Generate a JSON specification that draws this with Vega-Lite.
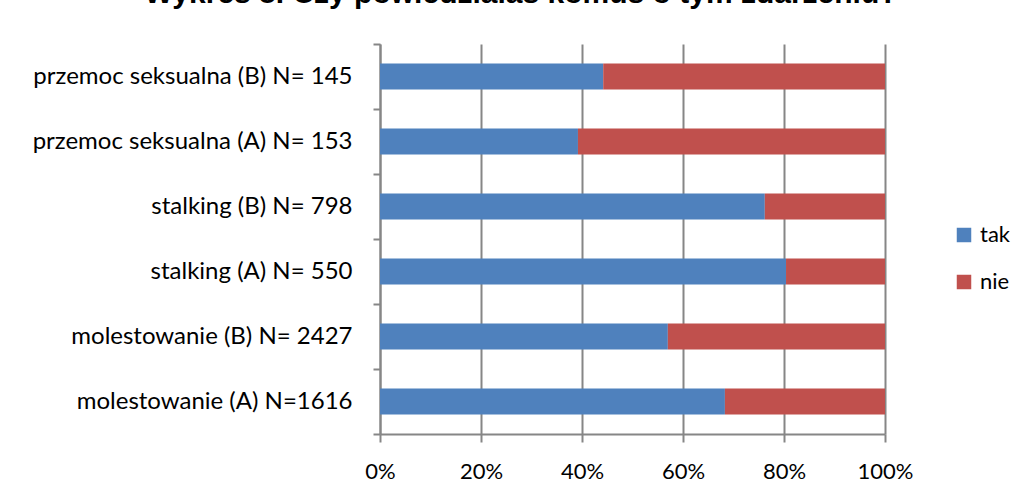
{
  "$schema": "https://vega.github.io/schema/vega-lite/v6.json",
  "width": 505,
  "height": 390,
  "autosize": "none",
  "padding": {"left": 380, "top": 44, "right": 141, "bottom": 59},
  "background": "white",
  "title": {
    "text": "Wykres 8. Czy powiedziałaś komuś o tym zdarzeniu?",
    "font": "Liberation Sans",
    "fontSize": 30,
    "fontWeight": "bold",
    "color": "#000000",
    "anchor": "middle",
    "frame": "bounds",
    "baseline": "alphabetic",
    "offset": -1
  },
  "data": {
    "values": [
      {"kategoria": "przemoc seksualna (B) N= 145", "odp": "tak", "ord": 1, "udzial": 0.442},
      {"kategoria": "przemoc seksualna (B) N= 145", "odp": "nie", "ord": 2, "udzial": 0.558},
      {"kategoria": "przemoc seksualna (A) N= 153", "odp": "tak", "ord": 1, "udzial": 0.392},
      {"kategoria": "przemoc seksualna (A) N= 153", "odp": "nie", "ord": 2, "udzial": 0.608},
      {"kategoria": "stalking (B) N= 798", "odp": "tak", "ord": 1, "udzial": 0.762},
      {"kategoria": "stalking (B) N= 798", "odp": "nie", "ord": 2, "udzial": 0.238},
      {"kategoria": "stalking (A) N= 550", "odp": "tak", "ord": 1, "udzial": 0.804},
      {"kategoria": "stalking (A) N= 550", "odp": "nie", "ord": 2, "udzial": 0.196},
      {"kategoria": "molestowanie (B) N=  2427", "odp": "tak", "ord": 1, "udzial": 0.570},
      {"kategoria": "molestowanie (B) N=  2427", "odp": "nie", "ord": 2, "udzial": 0.430},
      {"kategoria": "molestowanie (A) N=1616", "odp": "tak", "ord": 1, "udzial": 0.683},
      {"kategoria": "molestowanie (A) N=1616", "odp": "nie", "ord": 2, "udzial": 0.317}
    ]
  },
  "mark": {"type": "bar", "height": {"band": 0.4}},
  "encoding": {
    "y": {
      "field": "kategoria",
      "type": "nominal",
      "sort": ["przemoc seksualna (B) N= 145", "przemoc seksualna (A) N= 153", "stalking (B) N= 798", "stalking (A) N= 550", "molestowanie (B) N=  2427", "molestowanie (A) N=1616"],
      "scale": {"paddingInner": 0, "paddingOuter": 0},
      "axis": {
        "title": null,
        "tickBand": "extent",
        "tickExtra": true,
        "tickSize": 7,
        "tickColor": "#868686",
        "tickWidth": 2,
        "domainColor": "#868686",
        "domainWidth": 2,
        "labelPadding": 21,
        "labelLimit": 0,
        "labelFont": "Lato",
        "labelFontSize": 24,
        "labelColor": "#000000",
        "grid": false
      }
    },
    "x": {
      "field": "udzial",
      "type": "quantitative",
      "stack": "zero",
      "scale": {"domain": [0, 1], "nice": false},
      "axis": {
        "title": null,
        "values": [0, 0.2, 0.4, 0.6, 0.8, 1],
        "format": ".0%",
        "grid": true,
        "gridColor": "#868686",
        "gridWidth": 2,
        "tickSize": 8,
        "tickColor": "#868686",
        "tickWidth": 2,
        "domainColor": "#868686",
        "domainWidth": 2,
        "labelPadding": 19,
        "labelFlush": false,
        "labelFont": "Lato",
        "labelFontSize": 22,
        "labelColor": "#000000"
      }
    },
    "color": {
      "field": "odp",
      "type": "nominal",
      "sort": ["tak", "nie"],
      "scale": {"domain": ["tak", "nie"], "range": ["#4F81BD", "#C0504D"]},
      "legend": {
        "title": null,
        "orient": "none",
        "legendX": 573,
        "legendY": 180,
        "symbolType": "square",
        "symbolSize": 210,
        "symbolStrokeWidth": 0,
        "labelFont": "Lato",
        "labelFontSize": 22,
        "labelColor": "#000000",
        "rowPadding": 25,
        "labelOffset": 5
      }
    },
    "order": {"field": "ord", "type": "quantitative"}
  },
  "config": {
    "view": {"stroke": null},
    "axis": {"gridCap": "butt"}
  }
}
